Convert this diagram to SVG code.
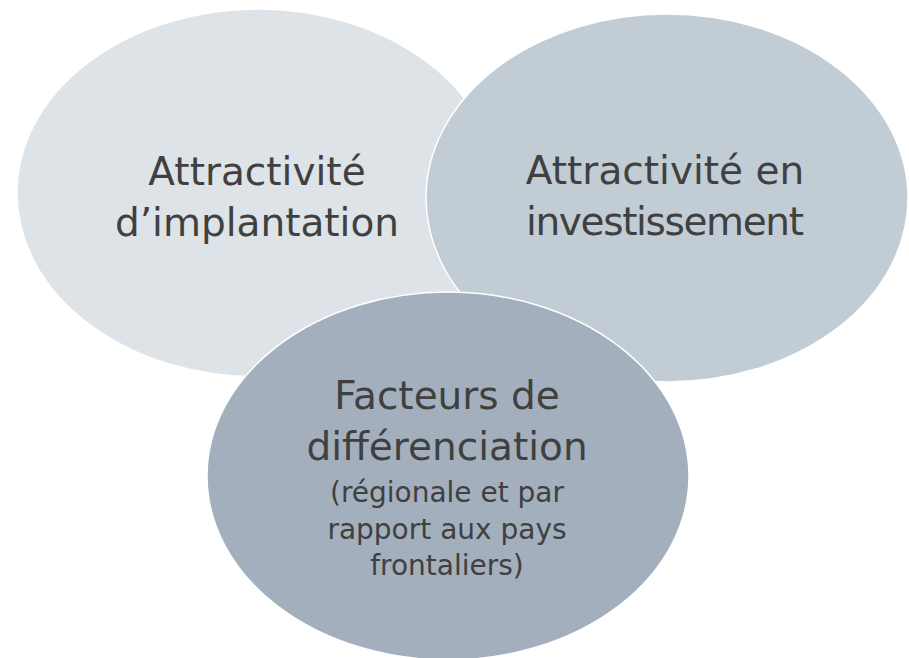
<svg xmlns="http://www.w3.org/2000/svg" width="909" height="658" viewBox="0 0 909 658">
  <style>
    .c { stroke: #ffffff; stroke-width: 1.5; }
    .t { font-family: "DejaVu Sans", Verdana, sans-serif; fill: #404040; text-anchor: middle; }
    .big { font-size: 39px; }
    .small { font-size: 28px; }
  </style>
  <rect width="909" height="658" fill="#ffffff"/>
  <g id="node-implantation">
    <ellipse class="c" cx="258" cy="193" rx="241" ry="184" fill="#dee3e8"/>
    <text class="t big" x="257" y="185">Attractivité</text>
    <text class="t big" x="257" y="236">d’implantation</text>
  </g>
  <g id="node-investissement">
    <ellipse class="c" cx="667" cy="198" rx="241" ry="184" fill="#c2ccd5"/>
    <text class="t big" x="665" y="184">Attractivité en</text>
    <text class="t big" x="665" y="235" textLength="278" lengthAdjust="spacing">investissement</text>
  </g>
  <g id="node-differenciation">
    <ellipse class="c" cx="448" cy="476" rx="241" ry="184" fill="#a3afbc"/>
    <text class="t big" x="447" y="409">Facteurs de</text>
    <text class="t big" x="447" y="460">différenciation</text>
    <text class="t small" x="447" y="502">(régionale et par</text>
    <text class="t small" x="447" y="539">rapport aux pays</text>
    <text class="t small" x="447" y="575">frontaliers)</text>
  </g>
</svg>
